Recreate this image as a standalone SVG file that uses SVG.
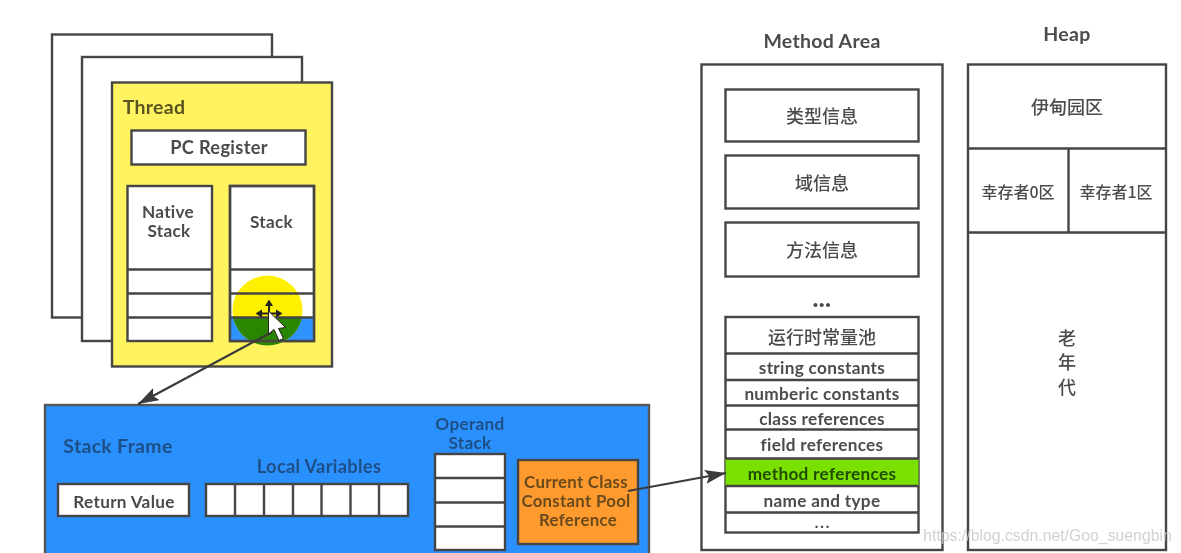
<svg xmlns="http://www.w3.org/2000/svg" width="1181" height="553" viewBox="0 0 1181 553">
<defs>
<filter id="soft" x="-5%" y="-5%" width="110%" height="110%"><feGaussianBlur stdDeviation="0.45"/></filter>
<marker id="ah" markerUnits="userSpaceOnUse" markerWidth="24" markerHeight="16" refX="21" refY="7" orient="auto"><path d="M0 0L21 7L0 14L4 7Z" fill="#3a3a3a"/></marker>
</defs>
<style>
.b{fill:#fff;stroke:#444;stroke-width:2.400}
.l{stroke:#444;stroke-width:2.400;fill:none}
text{font-family:"Lato","Noto Sans CJK SC",sans-serif;font-weight:700;fill:#4c4c4c;text-anchor:middle;letter-spacing:.3px}
.cjk{font-family:"Noto Sans CJK SC",sans-serif;font-weight:500;letter-spacing:0}
.s16{font-size:16.500px}.s17{font-size:17.200px}.s18{font-size:18.300px}.s19{font-size:19.500px}.c18{font-size:18px}.c16{font-size:16px}
.dots{font-size:25px;font-weight:900}
.dk{fill:#1f4f86}
.or{fill:#6a4a1c;font-size:16.800px}
</style>
<rect width="1181" height="553" fill="#fff"/>
<g filter="url(#soft)">
<g id="thread-back-2"><rect class="b" x="52" y="34.500" width="220" height="283"/></g>
<g id="thread-back-1"><rect class="b" x="82" y="57" width="220" height="284"/></g>
<g id="thread">
<rect x="112" y="82.500" width="220" height="284" fill="#fff35f" stroke="#444" stroke-width="2.400"/>
<text x="154" y="114" class="s19" style="fill:#5a5320">Thread</text>
</g>
<g id="pc-register"><rect class="b" x="131.500" y="130.500" width="174" height="34"/><text x="219" y="154" class="s18">PC Register</text></g>
<g id="native-stack">
<rect class="b" x="127.500" y="186" width="84.500" height="155"/>
<path class="l" d="M127.500 269.500H212M127.500 293.500H212M127.500 317.500H212"/>
<text x="168" y="218" class="s17">Native</text><text x="169" y="237" class="s17">Stack</text>
</g>
<g id="stack">
<rect class="b" x="230" y="186" width="84" height="155"/>
<rect x="230" y="318" width="84" height="23" fill="#2f93ff"/>
<circle cx="267.500" cy="310.500" r="35" fill="#fff000"/>
<path d="M301.700 318A35 35 0 0 1 233.300 318Z" fill="#2a8500"/>
<path class="l" d="M230 269.500H314M230 293.500H314M230 317.500H314"/>
<path class="l" d="M230 186H314V341H230Z"/>
<text x="271.500" y="228" class="s17">Stack</text>
</g>
<g id="stack-frame">
<rect x="45" y="405" width="604" height="160" fill="#2c90fe" stroke="#555" stroke-width="2.400"/>
<text x="118" y="453" class="s19 dk">Stack Frame</text>
<text x="319" y="473" class="s18 dk">Local Variables</text>
<text x="470" y="430" class="s17 dk">Operand</text>
<text x="470" y="449" class="s17 dk">Stack</text>
</g>
<g id="return-value"><rect class="b" x="58" y="484" width="131" height="32"/><text x="124" y="508" class="s17">Return Value</text></g>
<g id="local-variables">
<rect class="b" x="206" y="484" width="202" height="32"/>
<path class="l" d="M235 484V516M264 484V516M293 484V516M321.500 484V516M350.500 484V516M379 484V516"/>
</g>
<g id="operand-stack">
<rect class="b" x="435" y="454" width="70" height="96"/>
<path class="l" d="M435 478H505M435 502.500H505M435 526.500H505"/>
</g>
<g id="current-class">
<rect x="518" y="460" width="120" height="84" fill="#ff9a2e" stroke="#444" stroke-width="2.400"/>
<text x="576" y="488" class="or">Current Class</text>
<text x="576" y="507" class="or">Constant Pool</text>
<text x="578" y="526" class="or">Reference</text>
</g>
<text x="822" y="47.500" class="s19">Method Area</text>
<text x="1067" y="41" class="s19">Heap</text>
<g id="method-area">
<rect class="b" x="701.500" y="64.500" width="241" height="485.500"/>
<text x="822" y="307" class="dots">...</text>
</g>
<g id="type-info"><rect class="b" x="725.500" y="89.500" width="193" height="52"/><text x="822" y="122.500" class="c18 cjk">类型信息</text></g>
<g id="field-info"><rect class="b" x="725.500" y="155.500" width="193" height="53"/><text x="822" y="189.500" class="c18 cjk">域信息</text></g>
<g id="method-info"><rect class="b" x="725.500" y="222.500" width="193" height="54"/><text x="822" y="256.500" class="c18 cjk">方法信息</text></g>
<g id="runtime-pool">
<rect class="b" x="725.500" y="317" width="193" height="215.500"/>
<rect x="725.500" y="458.500" width="193" height="27.500" fill="#7ae000"/>
<path class="l" d="M725.500 353.500H918.500M725.500 380H918.500M725.500 405.500H918.500M725.500 429.500H918.500M725.500 458.500H918.500M725.500 486H918.500M725.500 512.500H918.500"/>
<text x="822" y="344" class="c18 cjk">运行时常量池</text>
<text x="822" y="374" class="s17">string constants</text>
<text x="822" y="400" class="s17">numberic constants</text>
<text x="822" y="424.500" class="s17">class references</text>
<text x="822" y="451" class="s17">field references</text>
<text x="822" y="480" class="s17" style="fill:#234d00">method references</text>
<text x="822" y="507" class="s17">name and type</text>
<text x="823" y="528" style="font-size:15px;font-weight:900;letter-spacing:2px">...</text>
</g>
<g id="heap">
<rect class="b" x="968" y="64.500" width="198" height="485.500"/>
<path class="l" d="M968 148.500H1166M968 232.500H1166M1068.500 148.500V232.500"/>
<text x="1067" y="114" class="c18 cjk">伊甸园区</text>
<text x="1018" y="198" class="c16 cjk">幸存者0区</text>
<text x="1116" y="198" class="c16 cjk">幸存者1区</text>
<text x="1067" y="345" class="c18 cjk">老</text>
<text x="1067" y="369" class="c18 cjk">年</text>
<text x="1067" y="394" class="c18 cjk">代</text>
</g>
<g id="connectors">
<path d="M272 332L138 404" stroke="#3a3a3a" stroke-width="2.200" fill="none" marker-end="url(#ah)"/>
<path d="M628 491L726 473" stroke="#3a3a3a" stroke-width="2.200" fill="none" marker-end="url(#ah)"/>
</g>
<g id="cursor">
<path d="M269 304V322M259 313.500H279" stroke="#222" stroke-width="2" fill="none"/>
<path d="M269 299.500l-4 6.500h8ZM255.500 313.500l6.500-4v8ZM282.500 313.500l-6.500-4v8Z" fill="#222"/>
<path d="M268.500 311V334L274 329.500L279 340.500L283.500 338.500L278.500 328.500L285.500 327.500Z" fill="#fff" stroke="#222" stroke-width="1"/>
</g>
</g>
<text id="watermark" x="1047.500" y="541" style="font-family:'Liberation Sans',sans-serif;font-size:15.800px;font-weight:400;fill:#c9c9c9;letter-spacing:0" opacity=".85">https://blog.csdn.net/Goo_suengbin</text>
</svg>
